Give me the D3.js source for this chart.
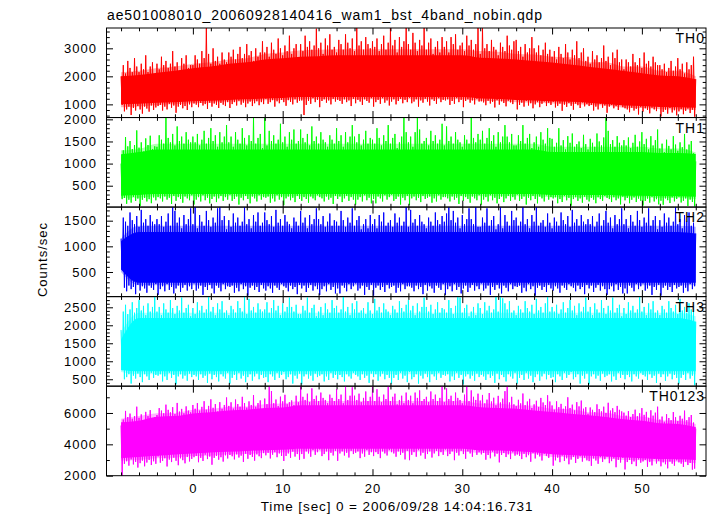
<!DOCTYPE html>
<html><head><meta charset="utf-8">
<script src="https://cdn.jsdelivr.net/npm/d3@7"></script>
<style>
body{margin:0;background:#fff}
svg{display:block}
text{font-family:"Liberation Sans",Arial,sans-serif;fill:#000}
</style>
</head><body>
<svg id="chart" width="717" height="516"></svg>
<script>
// ---------- text ----------
const titleText = "ae501008010_20060928140416_wam1_bst_4band_nobin.qdp";
const xLabelText = "Time [sec] 0 = 2006/09/28 14:04:16.731";
const yLabelText = "Counts/sec";

// ---------- bands ----------
const bandNames = ["TH0", "TH1", "TH2", "TH3", "TH0123"];
const bandColors = ["#ff0000", "#00ff00", "#0000ff", "#00ffff", "#ff00ff"];
const yDomains = [[530, 3725], [17, 2041], [20, 1765], [308, 2797], [2000, 7710]];
const yMajorTicks = [[1000, 2000, 3000], [500, 1000, 1500, 2000], [500, 1000, 1500], [500, 1000, 1500, 2000, 2500], [2000, 4000, 6000]];
const yMinorStep = [200, 100, 100, 100, 1000];
const xMajorTicks = [0, 10, 20, 30, 40, 50];
const xMinorStep = 2;
const xDomain = [-9.62, 57.14];

// sampling: local maxima every 0.25 s from -8, local minima every 0.25 s from -7.875,
// dense core band and spike-fringe band every 2 s from -8
const hiStart = -8, loStart = -7.875, sampleStep = 0.25;
const coreStart = -8, coreStep = 2;

// ---------- TH0 ----------
const th0CoreTop = [2000,2050,2130,2200,2290,2350,2450,2500,2600,2650,2700,2720,2750,2750,2750,2750,2750,2750,2750,2750,2660,2640,2600,2550,2490,2420,2340,2270,2190,2110,2030,2000,1900];
const th0CoreBot = [1000,1020,1060,1080,1110,1130,1160,1180,1210,1230,1260,1260,1260,1260,1260,1260,1260,1260,1260,1260,1210,1190,1160,1140,1110,1090,1060,1010,960,940,910,900,880];
const th0FringeTop = [2150,2200,2300,2350,2450,2500,2600,2650,2800,2850,2930,2950,2970,2970,2970,2970,2970,2970,2970,2970,2900,2880,2800,2780,2700,2680,2500,2500,2350,2350,2200,2200,2000];
const th0FringeBot = [900,920,980,1000,1050,1060,1100,1110,1150,1160,1180,1180,1180,1180,1180,1180,1180,1180,1180,1180,1130,1120,1080,1070,1030,1020,980,960,880,870,830,820,800];
const th0Hi = [
2000,2400,2100,2550,2300,2150,2650,2350,2150,2450,2250,2750,2150,2350,2500,2050,
2450,2250,2700,2400,2550,2300,2450,2900,2350,2500,2200,2650,2450,2750,2300,2400,
2400,2750,2600,2450,2900,2650,3725,2800,2450,3000,2550,2700,2450,2850,2600,2500,
2850,2700,2950,2600,2800,3050,2650,2800,3150,2750,2900,2550,3000,2700,2850,3250,
2850,3050,2700,3200,2950,2800,3350,3000,2750,3100,2900,3450,2800,3000,3150,2650,
3150,2900,3450,3050,3250,2950,3100,3700,3000,3200,2800,3350,3100,3500,2950,3050,
2850,3300,3150,2950,3500,3200,3000,3350,2900,3725,3100,3250,2950,3400,3150,3000,
3250,3050,3350,2900,3150,3450,2950,3200,3725,3100,3300,2850,3400,3050,3250,3725,
3150,2950,3550,3200,2900,3300,3100,3725,2950,3200,3350,2800,3050,3250,2850,3400,
3050,3250,2850,3400,3150,3500,2950,3100,3200,2900,3450,3100,3300,2950,3150,3725,
2800,3725,3000,3150,2900,3300,3050,2950,2750,3200,3050,2900,3450,3100,2950,3250,
3300,2900,3050,2700,3150,2850,3000,3400,3000,2850,3100,2750,2950,3200,2800,2950,
2700,2900,2600,3050,2800,2650,3150,2850,2600,2950,2750,3250,2650,2850,3000,2550,
2700,2450,2900,2600,2750,2500,2650,3100,2550,2700,2400,2850,2650,2950,2500,2600,
2250,2600,2500,2350,2800,2500,2400,2650,2300,2850,2450,2550,2350,2700,2500,2400,
2400,2250,2450,2150,2300,2550,2200,2350,2650,2250,2450,2100,2500,2250,2400,2700,
1900];
const th0Lo = [
980,750,820,920,620,870,780,940,820,670,920,850,740,960,800,890,
940,980,780,920,820,1020,880,960,700,920,980,860,940,800,1000,900,
1030,990,900,1050,960,1010,840,1060,920,1030,980,870,1050,990,940,1080,
870,1010,1080,960,1130,990,1060,900,1030,1100,940,1040,1110,970,1080,1010,
1200,1020,1080,1150,920,1110,1040,1160,1080,950,1150,1090,1000,1180,1060,1130,
1140,620,980,1120,1020,1220,1080,1160,900,1120,1180,1060,1140,1000,1200,1100,
1160,1120,1020,1180,1080,1140,940,1200,1040,1160,1100,980,1180,1120,1060,1220,
920,1080,1160,1020,1220,1060,1140,960,1100,1180,1000,1120,1200,1040,1160,1080,
1240,1040,1100,1180,920,1140,1060,1200,1100,960,1180,1120,1020,1220,1080,1160,
1140,1180,980,1120,1020,1220,1080,1160,900,1120,1180,1060,1140,1000,1200,1100,
1110,1070,970,1130,1030,1090,890,1150,990,1110,1050,930,1130,1070,1010,1170,
820,980,1060,920,1120,960,1040,860,1000,1080,900,1020,1100,940,1060,980,
1090,890,950,1030,770,990,910,1050,950,810,1030,970,870,1070,930,1010,
940,980,780,920,820,1020,880,960,700,920,980,860,940,800,1000,900,
860,820,720,880,780,840,640,900,740,860,800,680,880,820,760,920,
570,730,810,670,870,710,790,610,750,830,650,770,850,690,810,560];

// ---------- TH1 ----------
const th1CoreTop = [1210,1260,1320,1320,1320,1320,1320,1320,1320,1320,1320,1320,1320,1320,1320,1320,1320,1320,1320,1320,1320,1320,1320,1320,1260,1260,1260,1260,1260,1260,1240,1240,1215];
const th1CoreBot = [274,290,310,310,310,310,310,310,310,310,310,310,310,310,310,310,310,310,310,310,310,310,310,310,290,290,290,290,274,274,264,264,250];
const th1FringeTop = [1300,1330,1450,1450,1450,1450,1450,1450,1450,1450,1450,1450,1450,1450,1450,1450,1450,1450,1450,1450,1450,1450,1450,1450,1380,1380,1380,1380,1380,1380,1340,1340,1250];
const th1FringeBot = [230,230,260,260,260,260,260,260,260,260,260,260,260,260,260,260,260,260,260,260,260,260,260,260,240,240,240,240,240,240,220,220,200];
const th1Hi = [
1000,1300,1600,1390,1510,1330,1420,1750,1360,1480,1270,1570,1420,1630,1330,1390,
1380,1640,1540,1450,2041,1580,1480,1670,1410,1840,1510,1610,1450,1710,1540,1480,
1610,1480,1670,1410,1540,1740,1450,1580,1800,1510,1640,1380,1710,1480,1610,1870,
1480,1610,1380,1710,1540,1450,1800,1580,1410,1640,1510,2041,1450,1580,1670,1350,
2041,1410,1740,1510,1640,1450,1540,1900,1480,1610,1380,1710,1540,1770,1450,1510,
1770,1580,1480,1670,1410,1840,1510,1610,1450,1710,1540,1480,1380,1640,1540,1450,
1800,1510,1640,1380,1710,1480,1610,1870,1610,1480,1670,1410,1540,1740,1450,1580,
1540,1450,1800,1580,1410,1640,1510,1870,1450,1580,1670,1350,1480,1610,2041,1710,
1480,1610,1380,1710,2041,1770,1450,1510,1580,1410,1740,1510,1640,1450,1540,1900,
1410,1840,1510,1610,1450,1710,1540,1480,1380,1640,1540,1450,2041,1580,1480,1670,
1540,1740,1450,1580,1800,1510,1640,1380,1710,1480,1610,1870,1610,1480,1670,1410,
1410,1640,1510,1870,1450,1580,1670,1350,1480,1610,1380,1710,1540,1450,1800,1580,
1560,1380,1470,1800,1410,1530,1320,1620,1470,1680,1380,1440,1500,1350,1650,1440,
1320,1560,1470,1380,1680,1500,1410,1590,2041,1740,1440,1530,1380,1620,1470,1410,
1530,1410,1590,1350,1470,1650,1380,1500,1710,1440,1560,1320,1620,1410,1530,1770,
1340,1450,1260,1540,1400,1320,1620,1430,1290,1480,1370,1670,1320,1430,1510,1230,
1050];
const th1Lo = [
196,222,92,183,118,248,157,209,40,183,222,144,196,105,235,170,
242,214,144,256,186,228,88,270,158,242,200,116,256,214,172,284,
74,186,242,144,284,172,228,102,200,256,130,214,270,158,242,186,
298,158,200,256,74,228,172,270,200,102,256,214,144,284,186,242,
228,256,116,214,144,284,186,242,60,214,256,172,228,130,270,200,
158,242,200,116,256,214,172,284,242,214,144,256,186,228,88,270,
200,256,130,214,270,158,242,186,74,186,242,144,284,172,228,102,
200,102,256,214,144,284,186,242,298,158,200,256,74,228,172,270,
60,214,256,172,228,130,270,200,228,256,116,214,144,284,186,242,
242,214,144,256,186,228,88,270,158,242,200,116,256,214,172,284,
74,186,242,144,284,172,228,102,200,256,130,214,270,158,242,186,
298,158,200,256,74,228,172,270,200,102,256,214,144,284,186,242,
212,239,104,198,131,266,171,225,50,198,239,158,212,117,252,185,
144,225,185,104,239,198,158,266,225,198,131,239,171,212,77,252,
170,222,105,183,235,131,209,157,53,157,209,118,248,144,196,79,
160,69,212,173,108,238,147,199,251,121,160,212,43,186,134,30];

// ---------- TH2 ----------
const th2CoreTop = [1100,1280,1280,1280,1280,1280,1280,1280,1280,1280,1280,1280,1280,1280,1280,1280,1280,1280,1280,1280,1280,1280,1280,1280,1280,1280,1280,1280,1280,1280,1280,1280,1250];
const th2CoreBot = [550,290,290,290,290,290,290,290,290,290,290,290,290,290,290,290,290,290,290,290,290,290,290,290,290,290,290,290,290,290,290,290,290];
const th2FringeTop = [1150,1400,1400,1400,1400,1400,1400,1400,1400,1400,1400,1400,1400,1400,1400,1400,1400,1400,1400,1400,1400,1400,1400,1400,1400,1400,1400,1400,1400,1400,1400,1400,1380];
const th2FringeBot = [500,240,240,240,240,240,240,240,240,240,240,240,240,240,240,240,240,240,240,240,240,240,240,240,240,240,240,240,240,240,240,240,240];
const th2Hi = [
1150,1560,1480,1400,1660,1510,1430,1590,1380,1710,1460,1530,1400,1610,1480,1430,
1530,1430,1590,1380,1480,1640,1400,1765,1690,1460,1560,1350,1610,1430,1530,1740,
1430,1765,1350,1610,1480,1400,1690,1510,1380,1560,1460,1740,1765,1510,1590,1330,
1510,1380,1640,1460,1560,1400,1480,1765,1430,1530,1350,1610,1480,1660,1400,1460,
1660,1510,1430,1590,1380,1710,1460,1530,1400,1610,1480,1430,1350,1560,1480,1400,
1690,1460,1560,1350,1610,1430,1530,1740,1530,1430,1590,1380,1480,1640,1400,1510,
1480,1400,1690,1510,1380,1560,1460,1740,1400,1510,1590,1330,1430,1530,1350,1610,
1430,1530,1350,1610,1480,1660,1400,1460,1510,1380,1640,1460,1560,1400,1480,1765,
1380,1710,1460,1530,1400,1610,1480,1430,1350,1560,1480,1400,1660,1510,1430,1590,
1480,1640,1765,1510,1690,1460,1560,1350,1610,1430,1530,1740,1530,1430,1765,1380,
1380,1560,1460,1740,1400,1510,1590,1330,1430,1765,1350,1610,1480,1400,1690,1510,
1560,1400,1480,1765,1430,1530,1350,1610,1480,1765,1400,1460,1510,1380,1640,1460,
1350,1560,1480,1400,1660,1510,1430,1590,1380,1710,1460,1530,1400,1610,1480,1430,
1530,1430,1590,1380,1480,1640,1400,1510,1690,1460,1560,1350,1610,1430,1530,1740,
1430,1530,1350,1610,1480,1400,1690,1510,1380,1560,1460,1740,1400,1510,1590,1330,
1510,1380,1640,1460,1560,1400,1480,1765,1430,1530,1350,1610,1480,1660,1400,1460,
1250];
const th2Lo = [
550,194,124,236,166,208,68,250,138,222,180,96,236,194,152,264,
54,166,222,124,264,152,208,82,180,236,110,194,250,138,222,166,
278,138,180,236,54,208,152,250,180,82,236,194,124,264,166,222,
208,236,96,194,124,264,166,222,40,194,236,152,208,110,250,180,
138,222,180,96,236,194,152,264,222,194,124,236,166,208,68,250,
180,236,110,194,250,138,222,166,54,166,222,124,264,152,208,82,
180,82,236,194,124,264,166,222,278,138,180,236,54,208,152,250,
40,194,236,152,208,110,250,180,208,236,96,194,124,264,166,222,
222,194,124,236,166,208,68,250,138,222,180,96,236,194,152,264,
54,166,222,124,264,152,208,82,180,236,110,194,250,138,222,166,
278,138,180,236,54,208,152,250,180,82,236,194,124,264,166,222,
208,236,96,194,124,264,166,222,40,194,236,152,208,110,250,180,
138,222,180,96,236,194,152,264,222,194,124,236,166,208,68,250,
180,236,110,194,250,138,222,166,54,166,222,124,264,152,208,82,
180,82,236,194,124,264,166,222,278,138,180,236,54,208,152,250,
40,194,236,152,208,110,250,180,208,236,96,194,124,264,166,222];

// ---------- TH3 ----------
const th3CoreTop = [1600,2200,2200,2200,2200,2200,2200,2200,2200,2200,2200,2200,2200,2200,2200,2200,2200,2200,2200,2200,2200,2200,2200,2200,2200,2200,2200,2200,2200,2200,2200,2200,2100];
const th3CoreBot = [760,720,720,720,720,720,720,720,720,720,720,720,720,720,720,720,720,720,720,720,720,720,720,720,720,720,720,720,720,720,720,720,720];
const th3FringeTop = [1800,2350,2350,2350,2350,2350,2350,2350,2350,2350,2350,2350,2350,2350,2350,2350,2350,2350,2350,2350,2350,2350,2350,2350,2350,2350,2350,2350,2350,2350,2350,2350,2250];
const th3FringeBot = [700,640,640,640,640,640,640,640,640,640,640,640,640,640,640,640,640,640,640,640,640,640,640,640,640,640,640,640,640,640,640,640,640];
const th3Hi = [
1870,2380,2570,2310,2440,2640,2350,2480,2700,2410,2540,2280,2610,2380,2510,2797,
2380,2510,2280,2610,2440,2350,2700,2480,2310,2540,2410,2770,2350,2480,2570,2250,
2480,2310,2640,2410,2540,2350,2440,2797,2380,2510,2280,2610,2440,2670,2350,2410,
2280,2540,2440,2350,2670,2480,2380,2797,2310,2735,2410,2510,2350,2610,2440,2380,
2440,2640,2350,2480,2700,2410,2540,2280,2610,2380,2510,2770,2510,2380,2570,2310,
2310,2540,2410,2770,2350,2480,2570,2250,2380,2510,2280,2610,2440,2350,2700,2480,
2540,2350,2440,2797,2380,2510,2280,2610,2440,2670,2350,2410,2480,2310,2640,2410,
2310,2735,2410,2510,2350,2610,2440,2380,2280,2540,2440,2350,2670,2480,2380,2570,
2700,2410,2540,2280,2610,2380,2510,2770,2510,2380,2570,2310,2440,2640,2350,2480,
2440,2350,2700,2480,2310,2540,2797,2770,2350,2480,2570,2250,2380,2510,2280,2610,
2480,2310,2640,2410,2540,2350,2440,2797,2380,2797,2750,2610,2440,2670,2350,2410,
2280,2540,2440,2350,2670,2480,2380,2570,2310,2735,2410,2510,2350,2610,2797,2380,
2510,2380,2570,2310,2440,2640,2350,2480,2700,2410,2540,2280,2610,2380,2510,2770,
2380,2510,2280,2610,2440,2350,2700,2480,2310,2540,2410,2770,2350,2480,2570,2250,
2480,2310,2640,2410,2540,2350,2440,2797,2380,2510,2280,2610,2440,2670,2350,2410,
2280,2540,2440,2350,2670,2480,2380,2570,2310,2735,2410,2510,2350,2610,2440,2380,
2100];
const th3Lo = [
750,500,560,640,380,600,520,660,560,420,640,580,480,680,540,620,
600,640,440,580,480,680,540,620,360,580,640,520,600,460,660,560,
620,580,480,640,540,600,400,660,500,620,560,440,640,580,520,680,
380,540,620,480,680,520,600,420,560,640,460,580,660,500,620,540,
560,420,640,580,480,680,540,620,700,500,560,640,380,600,520,660,
360,580,640,520,600,460,660,560,600,640,440,580,480,680,540,620,
500,620,560,440,640,580,520,680,620,580,480,640,540,600,400,660,
560,640,460,580,660,500,620,540,380,540,620,480,680,520,600,420,
700,500,560,640,380,600,520,660,560,420,640,580,480,680,540,620,
600,640,440,580,480,680,540,620,360,580,640,520,600,460,660,560,
620,580,480,640,540,600,400,660,500,620,560,440,640,580,520,680,
380,540,620,480,680,520,600,420,560,640,460,580,660,500,620,540,
560,420,640,580,480,680,540,620,700,500,560,640,380,600,520,660,
360,580,640,520,600,460,660,560,600,640,440,580,480,680,540,620,
500,620,560,440,640,580,520,680,620,580,480,640,540,600,400,660,
560,640,460,580,660,500,620,540,380,540,620,480,680,520,600,330];

// ---------- TH0123 ----------
const th0123CoreTop = [5410,5500,5760,5800,5970,6050,6165,6200,6320,6350,6490,6490,6490,6490,6490,6490,6490,6490,6490,6490,6370,6320,6265,6150,6055,5950,5850,5750,5595,5500,5345,5300,5100];
const th0123CoreBot = [3120,3200,3270,3350,3420,3480,3520,3580,3620,3650,3715,3715,3715,3715,3715,3715,3715,3715,3715,3715,3615,3600,3565,3500,3365,3320,3265,3220,3165,3120,3065,3050,3000];
const th0123FringeTop = [5630,5800,5980,6000,6210,6250,6400,6420,6560,6600,6760,6760,6760,6760,6760,6760,6760,6760,6760,6760,6610,6600,6500,6480,6270,6250,6050,6030,5790,5770,5540,5520,5300];
const th0123FringeBot = [2960,3000,3110,3150,3260,3280,3360,3380,3460,3480,3545,3545,3545,3545,3545,3545,3545,3545,3545,3545,3445,3440,3395,3390,3195,3190,3095,3090,2995,2990,2895,2890,2800];
const th0123Hi = [
5200,5580,6130,5740,5960,5630,5800,6400,5690,5910,5520,6070,5800,6180,5630,5740,
5870,6310,6150,5980,6530,6200,6040,6370,5930,6640,6090,6260,5980,6420,6150,6040,
6510,6270,6630,6150,6390,6750,6210,6450,6870,6330,6570,6090,6690,6270,6510,6990,
6450,6680,6280,6860,6570,6400,7030,6630,6340,6740,6510,7140,6400,6630,6800,6220,
6920,6560,7710,7400,6620,6860,6440,7040,6740,7160,6560,6680,6800,6500,7100,6680,
7710,7030,6830,7230,6690,7570,6890,7100,6760,7300,6960,6830,6620,7170,6960,6760,
7510,6890,7170,6620,7710,6830,7100,7640,7100,6830,7230,6690,6960,7370,6760,7030,
7710,6760,7510,7030,6690,7170,6890,7710,6760,7030,7230,6550,6830,7100,6620,7300,
6830,7100,6620,7300,6960,7440,6760,6890,7030,6690,7370,6890,7170,6760,6960,7710,
6690,7570,6890,7100,6760,7300,6960,6830,6620,7170,7710,6760,7440,7030,6830,7230,
6790,7150,6610,6850,7270,6730,6970,6490,7090,6670,6910,7390,7710,6670,7030,6550,
6440,6840,6610,7240,6500,6730,6900,6320,6550,6780,6380,6960,6670,6500,7130,6730,
6480,6210,6740,6370,6580,6270,6420,7000,6320,6530,6160,6690,6420,6790,6270,6370,
5950,6350,6200,6050,6550,6250,6100,6400,6000,6650,6150,6300,6050,6450,6200,6100,
6020,5830,6120,5740,5930,6210,5790,5980,6310,5880,6070,5690,6170,5830,6020,6400,
5580,5770,5440,5920,5680,5540,6060,5730,5490,5820,5630,6150,5540,5730,5870,5390,
5000];
const th0123Lo = [
2000,2760,2920,2640,3040,2720,2880,2520,2800,2960,2600,2840,3000,2680,2920,2760,
3230,2830,2950,3110,2590,3030,2870,3150,2950,2670,3110,2990,2790,3190,2910,3070,
3180,3260,2860,3140,2940,3340,3060,3220,2700,3140,3260,3020,3180,2900,3300,3100,
3320,3240,3040,3360,3160,3280,2880,3400,3080,3320,3200,2960,3360,3240,3120,3440,
3300,3460,3100,3340,3500,3180,3420,3260,2940,3260,3420,3140,3540,3220,3380,3020,
3380,3080,3550,3420,3210,3630,3330,3500,3670,3250,3380,3550,2990,3460,3290,3590,
2950,3420,3550,3290,3460,3160,3590,3380,3460,3550,3120,3420,3210,3630,3330,3500,
3250,3500,3380,3120,3550,3420,3290,3630,3500,3420,3210,3550,3330,3460,3040,3590,
2990,3330,3500,3210,3630,3290,3460,3080,3380,3550,3160,3420,3590,3250,3500,3330,
3670,3250,3380,3550,2990,3460,3290,3590,3380,3080,3550,3420,3210,3630,3330,3500,
3360,3450,3020,3320,3110,3530,3230,3400,2850,3320,3450,3190,3360,3060,3490,3280,
3350,3270,3060,3400,3180,3310,2890,3440,3100,3350,3230,2970,3400,3270,3140,3480,
2640,2980,3150,2860,3280,2940,3110,2730,3030,3200,2810,3070,3240,2900,3150,2980,
2930,2630,3100,2970,2760,3180,2880,3050,3220,2800,2930,3100,2540,3010,2840,3140,
2400,2870,3000,2740,2910,2610,3040,2830,2910,3000,2570,2870,2660,3080,2780,2950,
2600,2850,2730,2470,2900,2770,2640,2980,2850,2770,2560,2900,2680,2810,2390,2450];

const coreTops = [th0CoreTop, th1CoreTop, th2CoreTop, th3CoreTop, th0123CoreTop];
const coreBots = [th0CoreBot, th1CoreBot, th2CoreBot, th3CoreBot, th0123CoreBot];
const fringeTops = [th0FringeTop, th1FringeTop, th2FringeTop, th3FringeTop, th0123FringeTop];
const fringeBots = [th0FringeBot, th1FringeBot, th2FringeBot, th3FringeBot, th0123FringeBot];
const spikeHi = [th0Hi, th1Hi, th2Hi, th3Hi, th0123Hi];
const spikeLo = [th0Lo, th1Lo, th2Lo, th3Lo, th0123Lo];

// ---------- layout ----------
const plotLeft = 106.5, plotRight = 706, plotTop = 28, plotBottom = 475.7;
const nPanels = bandNames.length;
const panelH = (plotBottom - plotTop) / nPanels;
const majorLen = 6.5, minorLen = 3.3;
const fontFam = '"Liberation Sans", Arial, sans-serif';

const svg = d3.select("#chart");
const x = d3.scaleLinear().domain(xDomain).range([plotLeft, plotRight]);
const xMinor = d3.range(-8, 57, xMinorStep).filter(v => xMajorTicks.indexOf(v) < 0);

function styleAxis(g, size, spacing) {
  g.select(".domain").remove();
  g.attr("font-family", fontFam).attr("font-size", size);
  g.selectAll("line").attr("stroke", "#000");
  g.selectAll("text").style("letter-spacing", spacing + "px");
}

for (let i = 0; i < nPanels; i++) {
  const y0 = plotTop + i * panelH, y1 = y0 + panelH;
  const y = d3.scaleLinear().domain(yDomains[i]).range([y1, y0]);
  const color = bandColors[i];

  const clipId = "clip" + i;
  svg.append("clipPath").attr("id", clipId).append("rect")
    .attr("x", plotLeft).attr("y", y0).attr("width", plotRight - plotLeft).attr("height", panelH);
  const g = svg.append("g").attr("clip-path", `url(#${clipId})`);

  const band = (tops, bots) => tops.map((v, j) => ({t: coreStart + j * coreStep, top: v, bot: bots[j]}));
  const areaGen = d3.area().x(d => x(d.t)).y0(d => y(d.bot)).y1(d => y(d.top)).curve(d3.curveMonotoneX);

  g.append("path").datum(band(fringeTops[i], fringeBots[i]))
    .attr("fill", color).attr("fill-opacity", 0.3).attr("d", areaGen);
  g.append("path").datum(band(coreTops[i], coreBots[i]))
    .attr("fill", color).attr("d", areaGen);

  const pts = [];
  spikeHi[i].forEach((v, j) => {
    pts.push({t: hiStart + j * sampleStep, v: v});
    if (j < spikeLo[i].length) pts.push({t: loStart + j * sampleStep, v: spikeLo[i][j]});
  });
  g.append("path").datum(pts)
    .attr("fill", "none").attr("stroke", color).attr("stroke-width", 1)
    .attr("d", d3.line().x(d => x(d.t)).y(d => y(d.v)));

  // y ticks left / right
  const minorY = d3.range(Math.ceil(yDomains[i][0] / yMinorStep[i]) * yMinorStep[i], yDomains[i][1], yMinorStep[i])
    .filter(v => yMajorTicks[i].indexOf(v) < 0);
  const gl = svg.append("g").attr("transform", `translate(${plotLeft},0)`)
    .call(d3.axisLeft(y).tickValues(yMajorTicks[i]).tickSizeInner(-majorLen).tickSizeOuter(0).tickPadding(9.5).tickFormat(d3.format("d")));
  styleAxis(gl, 13, 1);
  const glm = svg.append("g").attr("transform", `translate(${plotLeft},0)`)
    .call(d3.axisLeft(y).tickValues(minorY).tickSizeInner(-minorLen).tickSizeOuter(0).tickFormat(""));
  styleAxis(glm, 13, 0);
  const gr = svg.append("g").attr("transform", `translate(${plotRight},0)`)
    .call(d3.axisRight(y).tickValues(yMajorTicks[i]).tickSizeInner(-majorLen).tickSizeOuter(0).tickFormat(""));
  styleAxis(gr, 13, 0);
  const grm = svg.append("g").attr("transform", `translate(${plotRight},0)`)
    .call(d3.axisRight(y).tickValues(minorY).tickSizeInner(-minorLen).tickSizeOuter(0).tickFormat(""));
  styleAxis(grm, 13, 0);

  // x ticks top / bottom
  const gt = svg.append("g").attr("transform", `translate(0,${y0})`)
    .call(d3.axisTop(x).tickValues(xMajorTicks).tickSizeInner(-majorLen).tickSizeOuter(0).tickFormat(""));
  styleAxis(gt, 13, 0);
  const gtm = svg.append("g").attr("transform", `translate(0,${y0})`)
    .call(d3.axisTop(x).tickValues(xMinor).tickSizeInner(-minorLen).tickSizeOuter(0).tickFormat(""));
  styleAxis(gtm, 13, 0);
  const last = i === nPanels - 1;
  const gb = svg.append("g").attr("transform", `translate(0,${y1})`)
    .call(d3.axisBottom(x).tickValues(xMajorTicks).tickSizeInner(-majorLen).tickSizeOuter(0).tickPadding(8.4)
      .tickFormat(last ? d3.format("d") : ""));
  styleAxis(gb, 13, 1);
  const gbm = svg.append("g").attr("transform", `translate(0,${y1})`)
    .call(d3.axisBottom(x).tickValues(xMinor).tickSizeInner(-minorLen).tickSizeOuter(0).tickFormat(""));
  styleAxis(gbm, 13, 0);

  // frame
  svg.append("rect").attr("x", plotLeft).attr("y", y0).attr("width", plotRight - plotLeft).attr("height", panelH)
    .attr("fill", "none").attr("stroke", "#000").attr("stroke-width", 1);

  // band label
  svg.append("text").attr("x", plotRight - 1).attr("y", y0 + 15.3)
    .attr("text-anchor", "end").attr("font-size", 14).style("letter-spacing", "1px")
    .text(bandNames[i]);
}

svg.append("text").attr("x", 107).attr("y", 20).attr("font-size", 14).style("letter-spacing", "0.9px").text(titleText);
svg.append("text").attr("x", 397).attr("y", 510.5).attr("text-anchor", "middle").attr("font-size", 13.5)
  .style("letter-spacing", "0.9px").text(xLabelText);
svg.append("text").attr("transform", "translate(46.5,259.5) rotate(-90)").attr("text-anchor", "middle")
  .attr("font-size", 13).style("letter-spacing", "1px").text(yLabelText);
</script>
</body></html>
